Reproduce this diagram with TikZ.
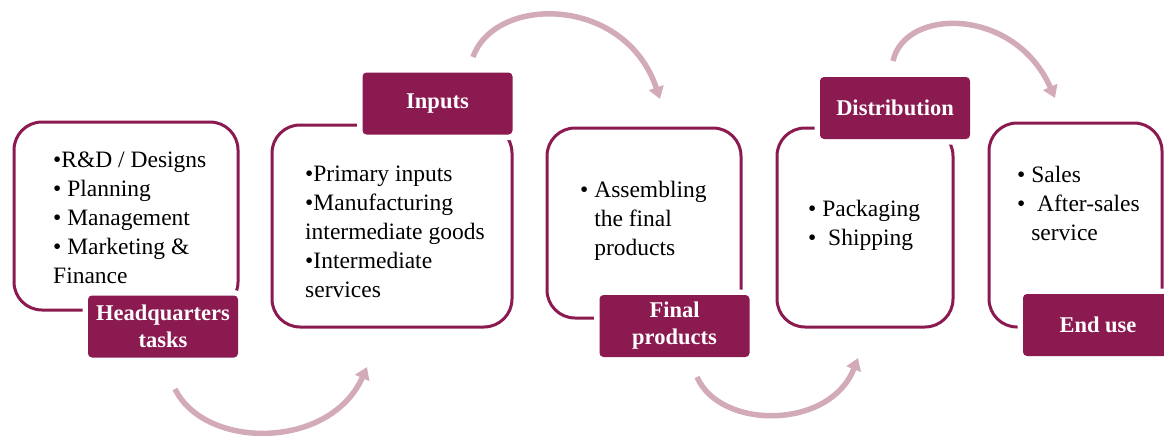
\documentclass[tikz,border=0pt]{standalone}
\usepackage{fontspec}
\setmainfont{Liberation Serif}
\usepackage{xcolor}
\usepackage{tikz}
\usetikzlibrary{arrows.meta}

\definecolor{wine}{RGB}{139,26,80}
\definecolor{rosegrey}{RGB}{211,170,184}

\begin{document}
\begin{tikzpicture}[x=1pt, y=-1pt,
      stage/.style={draw=wine, line width=3pt, rounded corners=28pt, inner sep=0pt},
      tag/.style={fill=wine, text=white, rounded corners=4pt,
        minimum width=150pt, minimum height=62pt, inner sep=0pt, align=center,
        font=\bfseries\fontsize{22.5}{27}\selectfont,
        preaction={draw=white, line width=11pt}},
      % base of a multi-line node is its last line
      items/.style={anchor=base west, inner sep=0pt, align=left,
        font=\fontsize{23.5}{29}\selectfont},
      flow/.style={draw=rosegrey, line width=5.5pt,
        -{Triangle[length=12pt, width=15pt]}}]
      \useasboundingbox (0,0) rectangle (1164,436);

      % stage outlines
      \node[stage, minimum width=224pt, minimum height=188pt] (hq) at (126,216) {};
      \node[stage, minimum width=240pt, minimum height=202pt] (inputs) at (392,226) {};
      \node[stage, minimum width=194pt, minimum height=190pt] (final) at (644,223) {};
      \node[stage, minimum width=176pt, minimum height=199pt] (distrib) at (865,227.5) {};
      \node[stage, minimum width=173pt, minimum height=204pt] (enduse) at (1075.5,225) {};

      % stage contents
      \node[items] (hqtext) at (53,283) {•R\&D / Designs\\ • Planning\\ • Management\\ • Marketing \&\\ Finance};
      \node[items] (inputstext) at (305,297) {•Primary inputs\\ •Manufacturing\\ intermediate goods\\ •Intermediate\\ services};
      \node[items] (finaltext) at (580,255) {• Assembling\\ \phantom{• }the final\\ \phantom{• }products};
      \node[items] (distribtext) at (808,245) {• Packaging\\ • \ Shipping};
      \node[items] (endusetext) at (1017,240) {• Sales\\ • \ After-sales\\ \phantom{• }service};

      % stage titles
      \node[tag] (hqtag) at (163,326.5) {Headquarters\\ tasks};
      \node[tag] (inputstag) at (437.5,103.5) {Inputs};
      \node[tag] (finaltag) at (674.5,326) {Final\\ products};
      \node[tag] (distribtag) at (895,108) {Distribution};
      \node[tag] (endusetag) at (1098,325) {End use};

      % flow between stages
      \coordinate (hqout) at (175,389);
      \coordinate (inputsin) at (367,367);
      \coordinate (inputsout) at (473,57);
      \coordinate (finalin) at (660,99);
      \coordinate (finalout) at (697,377);
      \coordinate (distribin) at (858,358);
      \coordinate (distribout) at (893,61);
      \coordinate (endusein) at (1055,98);
      \draw[flow] (hqout) .. controls (205,450) and (330,450) .. (inputsin);
      \draw[flow] (inputsout) .. controls (495,-5) and (625,-5) .. (finalin);
      \draw[flow] (finalout) .. controls (720,430) and (830,430) .. (distribin);
      \draw[flow] (distribout) .. controls (905,7) and (1015,7) .. (endusein);
    \end{tikzpicture}
\end{document}
